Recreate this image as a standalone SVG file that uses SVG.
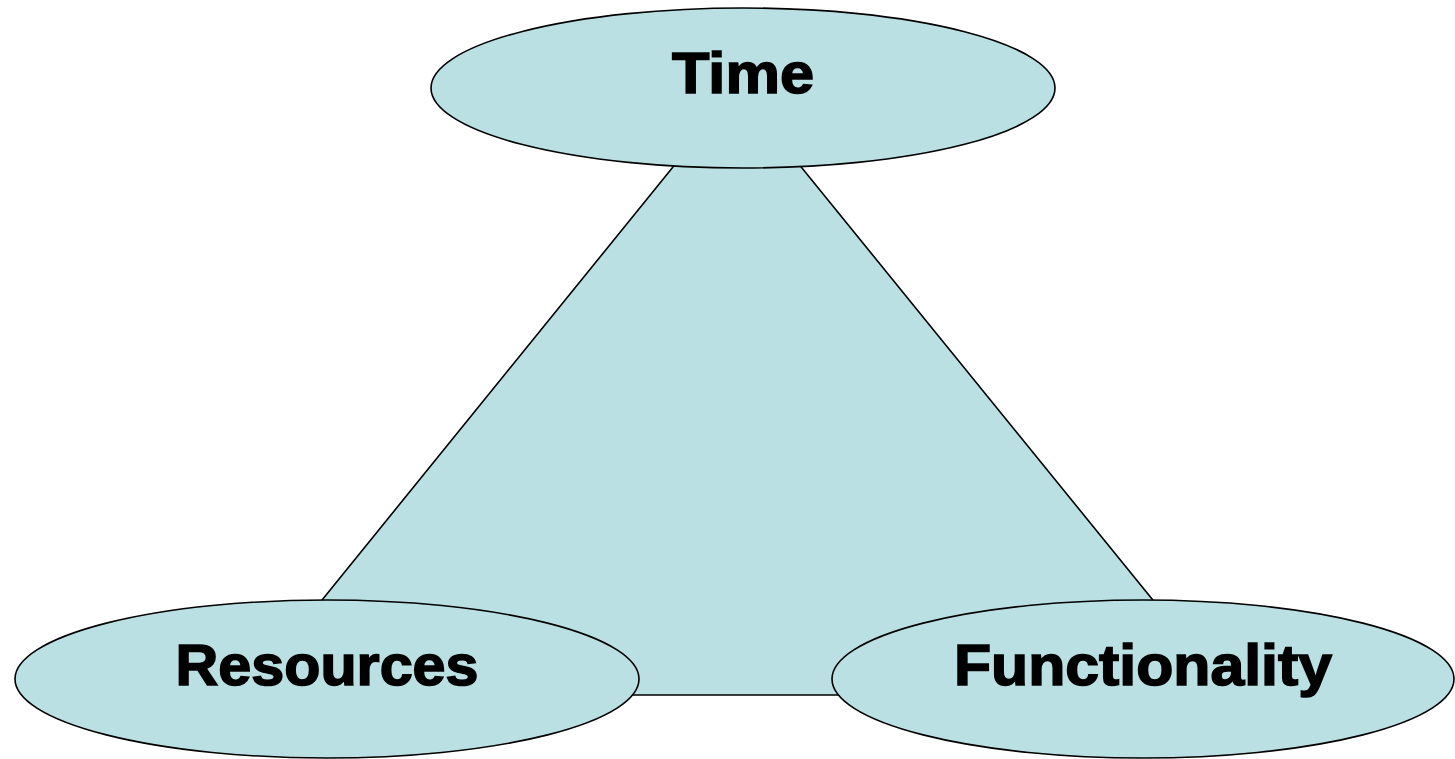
<svg xmlns="http://www.w3.org/2000/svg" width="1455" height="759" viewBox="0 0 1455 759">
<style>
.shape{fill:#BAE0E3;stroke:#000;stroke-width:1.6}
.lbl{font-family:"Liberation Sans",Arial,sans-serif;font-weight:bold;font-size:58px;fill:#000;stroke:#000;stroke-width:1.6;text-anchor:middle}
</style>
<rect width="1455" height="759" fill="#fff"/>
<g id="connectors">
<polygon class="shape" points="737,88 245,695 1230,695"/>
</g>
<g id="time">
<ellipse class="shape" cx="743" cy="88" rx="312" ry="80"/>
<text class="lbl" x="743" y="93" textLength="142" lengthAdjust="spacingAndGlyphs">Time</text>
</g>
<g id="resources">
<ellipse class="shape" cx="327" cy="679" rx="312" ry="79"/>
<text class="lbl" x="327" y="685" textLength="303" lengthAdjust="spacingAndGlyphs">Resources</text>
</g>
<g id="functionality">
<ellipse class="shape" cx="1143" cy="679" rx="311" ry="79"/>
<text class="lbl" x="1143" y="685" textLength="378" lengthAdjust="spacingAndGlyphs">Functionality</text>
</g>
</svg>
